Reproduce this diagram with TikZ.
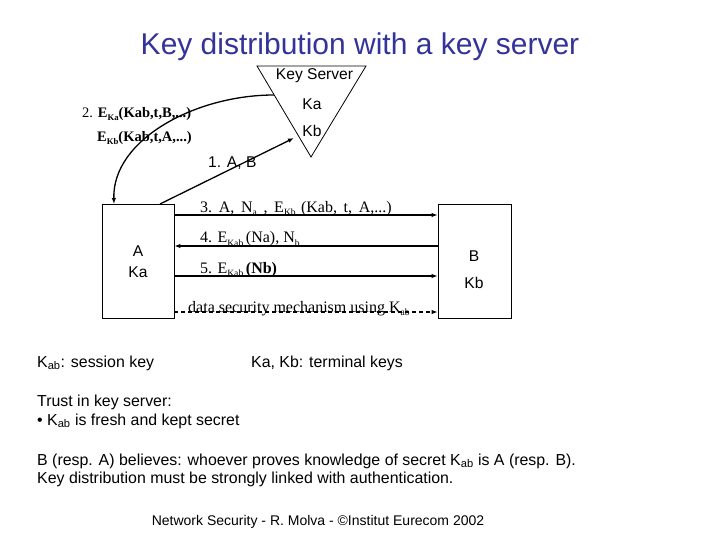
\documentclass[tikz,border=0pt]{standalone}
\usepackage{fontspec}
\usepackage{graphicx}
\setmainfont{Liberation Serif}
\newfontfamily\arial{Liberation Sans}
\usetikzlibrary{arrows.meta}
\definecolor{titleblue}{RGB}{51,51,153}
\newcommand\sbs[1]{\raisebox{-0.45ex}{\scalebox{0.6}{#1}}}
\newcommand\nsub[1]{\textsubscript{#1}}
\begin{document}
\begin{tikzpicture}[x=1pt,y=-1pt,
  tip/.style={-{Latex[length=6pt,width=4.5pt]}},
  ln/.style={line width=1.6pt},
  sans/.style={font=\arial\fontsize{15.6}{18}\selectfont, inner sep=0},
  note/.style={font=\arial\fontsize{15.9}{19}\selectfont, anchor=base west, inner sep=0},
  eq/.style={font=\fontsize{16}{19}\selectfont, anchor=base west, inner sep=0},
  eqs/.style={font=\fontsize{14.5}{17}\selectfont, anchor=base west, inner sep=0},
  boxnode/.style={draw, line width=0.8pt, minimum width=72pt, minimum height=114pt, inner sep=0},
]
\useasboundingbox (0,0) rectangle (720,540);
\node[font=\arial\fontsize{30}{36}\selectfont, text=titleblue, anchor=base, inner sep=0] (title) at (360,55) {Key distribution with a key server};

% key server triangle
\coordinate (tl) at (257,66);
\coordinate (tr) at (366,66);
\coordinate (tb) at (311,157);
\draw[line width=0.8pt] (tl) -- (tr) -- (tb) -- cycle;
\node[sans, anchor=base] (ks) at (314.5,80) {Key Server};
\node[sans, anchor=base] (ka) at (312,110) {Ka};
\node[sans, anchor=base] (kb) at (312,137) {Kb};
\coordinate (ksout) at (274,95);
\coordinate (ksin) at (294,138);

% boxes
\node[boxnode] (A) at (138,261) {};
\node[boxnode, minimum width=73pt] (B) at (474.5,261) {};
\node[sans, anchor=base] (Al) at (138,256) {A};
\node[sans, anchor=base] (Akl) at (138,277) {Ka};
\node[sans, anchor=base] (Bl) at (474,261) {B};
\node[sans, anchor=base] (Bkl) at (474,288) {Kb};

% message 1 and 2
\coordinate (a1) at (160,204);
\coordinate (a2) at (114,204);
\draw[line width=1.3pt, tip] (a1) -- (ksin);
\draw[line width=1.3pt, tip] (ksout) .. controls (195,95) and (112,140) .. (a2);
\node[sans, anchor=base west] (m1) at (208,168) {1. A, B};
\node[eqs] (m2a) at (82,118) {2. \textbf{E}\sbs{\textbf{Ka}}\textbf{(Kab,t,B,...)}};
\node[eqs] (m2b) at (97,142) {\textbf{E}\sbs{\textbf{Kb}}\textbf{(Kab,t,A,...)}};

% messages 3-5
\coordinate (y3) at (0,215);
\coordinate (y4) at (0,246);
\coordinate (y5) at (0,276);
\coordinate (yd) at (0,312);
\draw[ln, tip] (A.east |- y3) -- (B.west |- y3);
\draw[ln, tip] (B.west |- y4) -- (A.east |- y4);
\draw[ln, tip] (A.east |- y5) -- (B.west |- y5);
\draw[line width=1.4pt, dash pattern=on 4pt off 3pt, tip] (A.east |- yd) -- (B.west |- yd);
\node[eq] (m3) at (200,212) {3.\,\ A,\,\ N\sbs{a}\,\ ,\,\ E\sbs{Kb}\,\,(Kab,\,\ t,\,\ A,...)};
\node[eq] (m4) at (200,243) {4. E\sbs{Kab}\,(Na), N\sbs{b}};
\node[eq] (m5) at (200,273) {5. E\sbs{Kab}\,\textbf{(Nb)}};
\node[eq] (md) at (188,312) {data security mechanism using K\sbs{ab}};

% notes
\node[note] (n1) at (37,367) {K\nsub{ab}: session key};
\node[note] (n2) at (251,367) {Ka, Kb: terminal keys};
\node[note] (n3) at (37,406) {Trust in key server:};
\node[note] (n4) at (37,425) {\textbullet\ K\nsub{ab} is fresh and kept secret};
\node[note] (n5) at (37,465) {B (resp. A) believes: whoever proves knowledge of secret K\nsub{ab} is A (resp. B).};
\node[note] (n6) at (37,483) {Key distribution must be strongly linked with authentication.};
\node[font=\arial\fontsize{14}{17}\selectfont, anchor=base, inner sep=0] (foot) at (318,525) {Network Security - R. Molva - ©Institut Eurecom 2002};
\end{tikzpicture}
\end{document}
